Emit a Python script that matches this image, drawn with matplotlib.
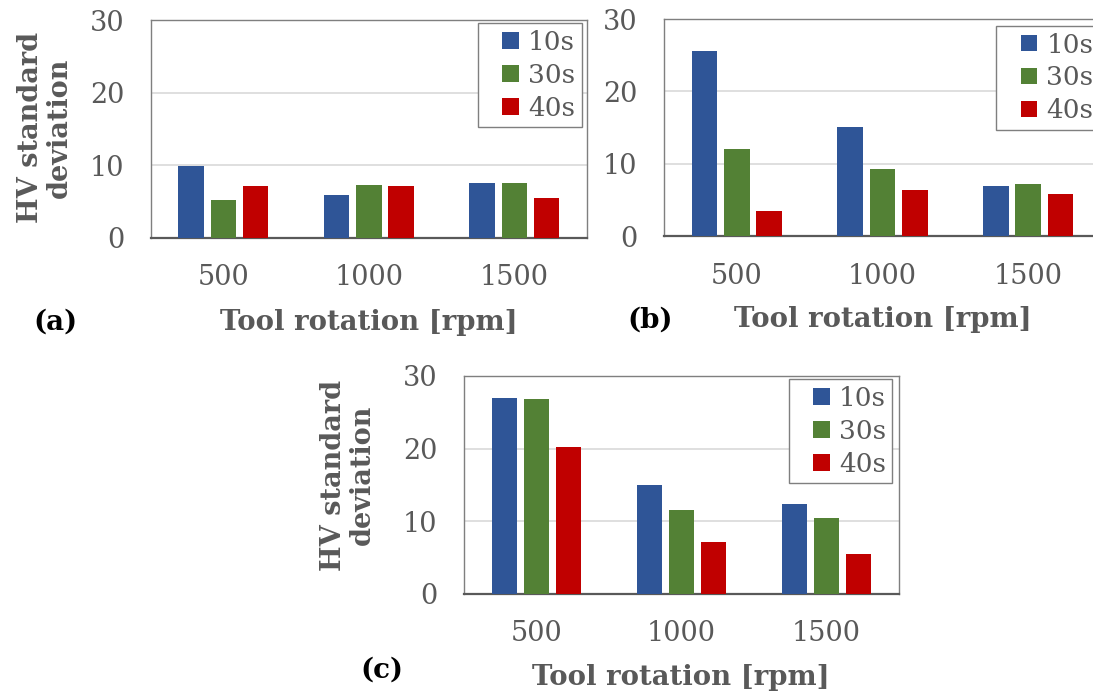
import numpy as np
import matplotlib
matplotlib.use('Agg')
import matplotlib.pyplot as plt
from matplotlib.patches import Rectangle
from matplotlib.container import BarContainer
from matplotlib.legend_handler import HandlerBase

# data
rpm = ['500', '1000', '1500']
series = ['10s', '30s', '40s']
vals_a = {'10s': [9.86, 5.83, 7.52], '30s': [5.14, 7.25, 7.52], '40s': [7.07, 7.07, 5.46]}
vals_b = {'10s': [25.6, 15.04, 6.9], '30s': [12.1, 9.29, 7.22], '40s': [3.54, 6.35, 5.84]}
vals_c = {'10s': [26.96, 15.0, 12.4], '30s': [26.8, 11.53, 10.44], '40s': [20.2, 7.15, 5.45]}
colors = {'10s': '#2F5597', '30s': '#538135', '40s': '#C00000'}

W, H = 1093, 697
plt.rcParams['font.family'] = ['DejaVu Serif']
gray = '#595959'

fig = plt.figure(figsize=(W / 100, H / 100), dpi=100)


class SquareHandler(HandlerBase):
    # small square sitting at the right end of the handle box
    def create_artists(self, legend, orig_handle, xdescent, ydescent, width, height, fontsize, trans):
        s = 0.62 * fontsize
        p = Rectangle((-xdescent + width - s, -ydescent + (height - s) / 2), s, s,
                      facecolor=orig_handle.patches[0].get_facecolor(), edgecolor='none',
                      transform=trans)
        return [p]


def px_axes(left, top, width, height):
    return fig.add_axes([left / W, 1 - (top + height) / H, width / W, height / H])


def draw(ax, vals, leg_loc, leg_anchor):
    x = np.arange(len(rpm))
    off = 0.222
    for i, s in enumerate(series):
        ax.bar(x + (i - 1) * off, vals[s], width=0.175, color=colors[s], label=s, zorder=3)
    ax.set_xlim(-0.5, 2.5)
    ax.set_ylim(0, 30)
    ax.set_yticks([0, 10, 20, 30])
    ax.set_xticks(x)
    ax.set_xticklabels(rpm)
    ax.grid(axis='y', color='#d9d9d9', lw=1.2, zorder=0)
    for sp in ax.spines.values():
        sp.set_color('#7f7f7f')
        sp.set_linewidth(1.0)
    ax.spines['bottom'].set_color('#595959')
    ax.spines['bottom'].set_linewidth(1.6)
    ax.tick_params(length=0, labelsize=19.5, colors=gray, pad=19)
    ax.tick_params(axis='x', pad=19)
    leg = ax.legend(loc=leg_loc, bbox_to_anchor=leg_anchor, fontsize=19, fancybox=False,
                    edgecolor='#7f7f7f', framealpha=1, handlelength=1.3, handleheight=0.7,
                    handletextpad=0.35, labelspacing=0.3, borderpad=0.25, borderaxespad=0,
                    handler_map={BarContainer: SquareHandler()})
    leg.get_frame().set_linewidth(1.0)
    for t in leg.get_texts():
        t.set_color(gray)


ax_a = px_axes(150.7, 20, 436.3, 217.7)
draw(ax_a, vals_a, 'upper right', (0.988, 0.985))
ax_b = px_axes(664, 19, 437, 217.3)
draw(ax_b, vals_b, 'upper left', (0.760, 0.968))
ax_c = px_axes(464, 376, 435, 217.5)
draw(ax_c, vals_c, 'upper right', (0.985, 0.985))

lab = dict(fontweight='bold', ha='center', va='baseline')
fig.text(369 / W, 1 - 330 / H, 'Tool rotation [rpm]', color=gray, fontsize=19.8, **lab)
fig.text(882.5 / W, 1 - 327 / H, 'Tool rotation [rpm]', color=gray, fontsize=19.8, **lab)
fig.text(681 / W, 1 - 685 / H, 'Tool rotation [rpm]', color=gray, fontsize=19.8, **lab)
fig.text(55.5 / W, 1 - 330 / H, '(a)', color='black', fontsize=20, **lab)
fig.text(650 / W, 1 - 328 / H, '(b)', color='black', fontsize=20, **lab)
fig.text(381.7 / W, 1 - 678 / H, '(c)', color='black', fontsize=20, **lab)
ylab = dict(color=gray, rotation=90, multialignment='center', linespacing=1.05,
            fontsize=19.5, fontweight='bold', ha='center', va='center')
fig.text(45 / W, 1 - 127.5 / H, 'HV standard\ndeviation', **ylab)
fig.text(348 / W, 1 - 475 / H, 'HV standard\ndeviation', **ylab)

fig.savefig('out.png', dpi=100)
